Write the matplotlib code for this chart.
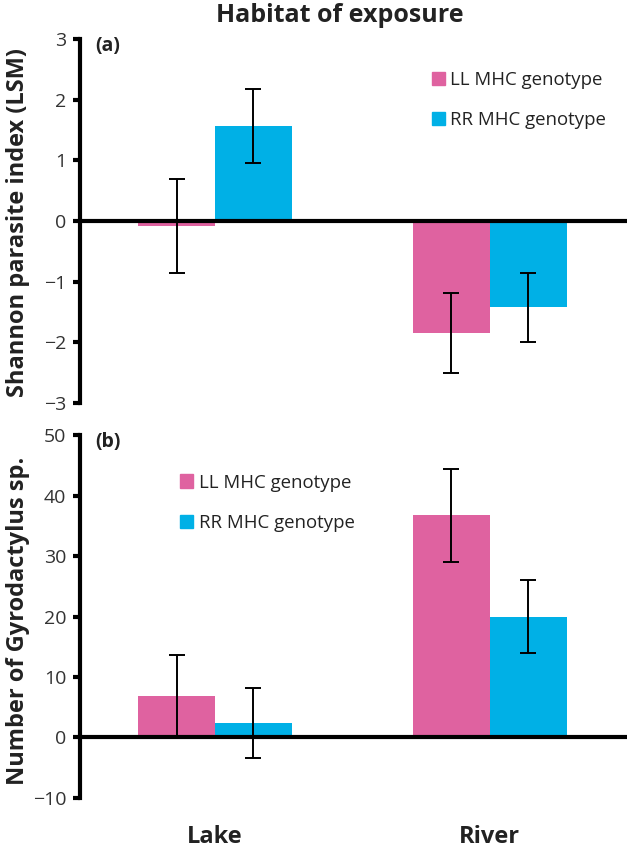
import matplotlib
matplotlib.use("Agg")
import matplotlib.pyplot as plt
from matplotlib.patches import Patch
import numpy as np

plt.rcParams["font.family"] = ["Open Sans", "DejaVu Sans"]

groups = ["Lake", "River"]
genotypes = ["LL MHC genotype", "RR MHC genotype"]
colors = ["#DF62A0", "#00B0E6"]

# panel (a): Shannon parasite index (LSM)
shannon_ll = [-0.08, -1.84]
shannon_ll_err = [0.78, 0.66]
shannon_rr = [1.57, -1.42]
shannon_rr_err = [0.61, 0.57]

# panel (b): number of Gyrodactylus sp.
gyro_ll = [6.9, 36.7]
gyro_ll_err = [6.8, 7.7]
gyro_rr = [2.4, 20.0]
gyro_rr_err = [5.8, 6.1]

x = np.arange(len(groups))
w = 0.28

fig = plt.figure(figsize=(6.3, 8.51), dpi=100)
ax1 = fig.add_axes([0.127, 0.5264, 0.868, 0.4277])
ax2 = fig.add_axes([0.127, 0.0623, 0.868, 0.4265])


def draw(ax, ll, ll_err, rr, rr_err, ylim, yticks, tag, leg_xy):
    ax.bar(x - w / 2, ll, w, color=colors[0], zorder=2)
    ax.bar(x + w / 2, rr, w, color=colors[1], zorder=2)
    ax.errorbar(x - w / 2, ll, yerr=ll_err, fmt="none", ecolor="black",
                elinewidth=1.4, capsize=6, capthick=1.4, zorder=4)
    ax.errorbar(x + w / 2, rr, yerr=rr_err, fmt="none", ecolor="black",
                elinewidth=1.4, capsize=6, capthick=1.4, zorder=4)
    ax.axhline(0, color="black", lw=3, zorder=3)
    ax.set_xlim(-0.491, 1.498)
    ax.set_ylim(*ylim)
    ax.set_yticks(yticks)
    ax.set_xticks([])
    for s in ["top", "right", "bottom"]:
        ax.spines[s].set_visible(False)
    ax.spines["left"].set_linewidth(3)
    ax.tick_params(axis="y", width=3, length=5, pad=5, labelsize=14,
                   labelcolor="#333333")
    ax.text(0.027, 0.982, tag, transform=ax.transAxes, fontsize=14,
            fontweight="bold", va="center", ha="left", color="#222222")
    handles = [Patch(color=c) for c in colors]
    ax.legend(handles, genotypes, loc="upper left", bbox_to_anchor=leg_xy,
              frameon=False, fontsize=13.4, handlelength=0.7, handleheight=0.7,
              handletextpad=0.3, labelspacing=1.19, borderpad=0,
              borderaxespad=0, labelcolor="#222222")


draw(ax1, shannon_ll, shannon_ll_err, shannon_rr, shannon_rr_err,
     (-3, 3), range(-3, 4), "(a)", (0.643, 0.912))
draw(ax2, gyro_ll, gyro_ll_err, gyro_rr, gyro_rr_err,
     (-10, 50), range(-10, 51, 10), "(b)", (0.183, 0.894))

for i, g in enumerate(groups):
    ax2.text(x[i], -0.107, g, transform=ax2.get_xaxis_transform(),
             ha="center", va="center", fontsize=17, fontweight="bold",
             color="#222222")

fig.text(0.539, 0.982, "Habitat of exposure", ha="center", va="center",
         fontsize=18, fontweight="bold", color="#222222")
fig.text(0.029, 0.739, "Shannon parasite index (LSM)", rotation=90,
         ha="center", va="center", fontsize=17, fontweight="bold",
         color="#222222")
fig.text(0.029, 0.271, "Number of Gyrodactylus sp.", rotation=90,
         ha="center", va="center", fontsize=17, fontweight="bold",
         color="#222222")

fig.savefig("out.png", dpi=100)
